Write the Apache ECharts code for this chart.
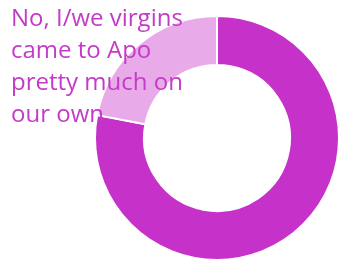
<!DOCTYPE html>
<html>
<head>
<meta charset="utf-8">
<script src="https://cdn.jsdelivr.net/npm/echarts@6/dist/echarts.min.js"></script>
<style>
    html, body { margin: 0; padding: 0; background: #ffffff; }
    #pieChart { width: 341px; height: 261px; }
</style>
</head>
<body>
<div id="pieChart"></div>
<script>
const categories = ['Yes', 'No, I/we virgins came to Apo pretty much on our own'];
const values = [78, 22];
const colors = ['#c531c9', '#e8aae8'];
const titleLines = ['No, I/we virgins', 'came to Apo', 'pretty much on', 'our own'];

let pieChartDom = document.getElementById('pieChart');
let pieChart = echarts.init(pieChartDom);

let pieChartOption = {
    backgroundColor: '#ffffff',
    animation: false,
    title: {
        text: titleLines.join('\n'),
        left: 6,
        top: -2,
        z: 10,
        textStyle: {
            color: '#c53ac7',
            fontFamily: 'Open Sans',
            fontWeight: 'normal',
            fontSize: 24,
            lineHeight: 32
        }
    },
    series: [
        {
            type: 'pie',
            center: [217, 138],
            radius: [73, 122],
            startAngle: 90,
            clockwise: true,
            label: { show: false },
            labelLine: { show: false },
            itemStyle: {
                borderColor: '#ffffff',
                borderWidth: 2
            },
            data: categories.map((name, i) => ({
                name: name,
                value: values[i],
                itemStyle: { color: colors[i] }
            }))
        }
    ]
};

pieChart.setOption(pieChartOption);

window.addEventListener('resize', () => {
    pieChart.resize();
});
</script>
</body>
</html>
